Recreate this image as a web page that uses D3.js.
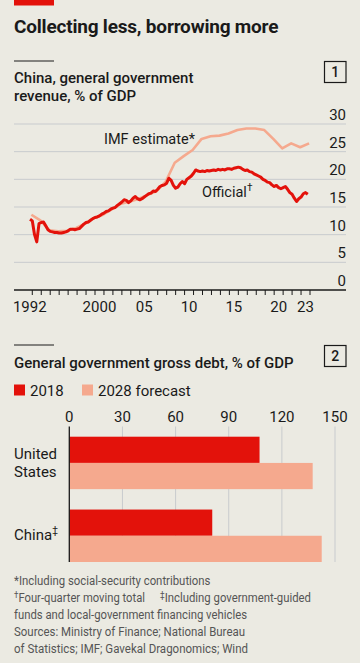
<!DOCTYPE html>
<html><head><meta charset="utf-8">
<script src="https://cdn.jsdelivr.net/npm/d3@7"></script>
<style>
html,body{margin:0;padding:0;background:#EBEAE2;}
svg{display:block;font-family:Roboto,"Noto Sans",sans-serif;}
</style></head>
<body><svg id="c" width="360" height="663"></svg>
<script>
// ---------- DATA ----------
// Chart 1: official revenue, quarterly (four-quarter moving total), % of GDP, starting 1992 Q4
const officialStart = 1992.75;
const officialValues = [
12.8,12.5,10.0,8.7,12.0,12.2,12.3,11.6,10.9,10.6,10.5,10.4,10.4,10.3,10.3,10.4,10.5,10.7,11.0,11.0,
10.9,11.0,11.1,11.5,11.9,12.2,12.3,12.6,12.9,13.1,13.2,13.4,13.7,13.9,14.2,14.3,14.6,14.8,14.9,15.3,
15.6,15.9,16.3,16.2,15.8,16.1,16.6,16.9,16.5,16.3,16.5,16.8,17.1,17.4,17.5,17.9,17.8,18.2,18.7,18.9,
19.0,19.3,20.2,19.8,18.9,18.4,18.6,19.2,19.6,19.2,20.0,20.3,20.6,21.1,21.7,21.5,21.4,21.5,21.4,21.6,
21.5,21.6,21.7,21.6,21.8,21.7,21.8,21.7,21.9,21.9,21.8,22.0,22.1,22.2,22.1,21.8,21.6,21.7,21.4,21.3,
21.0,20.8,20.6,20.4,20.0,19.8,19.5,19.4,19.0,18.7,18.9,18.5,18.3,18.5,18.7,18.2,17.6,17.3,16.6,16.0,
16.5,16.8,17.4,17.6,17.3];
// IMF estimate, annual
const imfYears = d3.range(1992, 2024);
const imfValues = [13.6,12.6,10.8,10.6,10.7,11.2,12.0,13.0,13.6,14.6,15.6,16.0,16.5,17.2,17.9,19.6,
23.0,24.2,25.3,27.3,27.8,27.9,28.3,28.9,29.2,29.2,28.9,27.3,25.6,26.5,25.8,26.5];
const revTicks = [0,5,10,15,20,25,30];
const yearLabels = [[1992,"1992"],[2000,"2000"],[2005,"05"],[2010,"10"],[2015,"15"],[2020,"20"],[2023,"23"]];

// Chart 2: gross debt, % of GDP
const countries = ["United States","China‡"];
const debt2018 = [107.4, 80.7];
const debt2028 = [137.4, 142.5];
const debtTicks = [0,30,60,90,120,150];
const seriesNames = ["2018","2028 forecast"];

// ---------- STYLE ----------
const RED = "#E3120B", PINK = "#F5A98E", INK = "#1A1A1A", GRID = "#C8CBCE";

const svg = d3.select("#c");

// header
svg.append("rect").attr("x",14).attr("y",0).attr("width",40).attr("height",5.5).attr("fill",RED);
svg.append("text").attr("x",14).attr("y",33).attr("font-size",19).attr("font-weight",700)
  .attr("fill",INK).attr("letter-spacing",-0.2).text("Collecting less, borrowing more");

// ---------- CHART 1 ----------
svg.append("line").attr("x1",14).attr("x2",54).attr("y1",61).attr("y2",61).attr("stroke",INK).attr("stroke-width",1);
svg.append("text").attr("x",14).attr("y",83.3).attr("font-size",15).attr("font-weight",500).attr("fill",INK).text("China, general government");
svg.append("text").attr("x",14).attr("y",100.8).attr("font-size",15).attr("font-weight",500).attr("fill",INK).text("revenue, % of GDP");
function numBox(x,y,label){
  svg.append("rect").attr("x",x).attr("y",y).attr("width",21.5).attr("height",21).attr("fill","none").attr("stroke",INK).attr("stroke-width",1.2);
  svg.append("text").attr("x",x+10.75).attr("y",y+15.5).attr("text-anchor","middle").attr("font-size",14).attr("font-weight",500).attr("fill",INK).text(label);
}
numBox(324.5,61.5,"1");

const x1 = d3.scaleLinear().domain([2000,2024]).range([95,310]);
const y1 = d3.scaleLinear().domain([0,30]).range([290,124]);

const g1 = svg.append("g");
g1.selectAll("line.grid").data(revTicks.filter(d=>d>0)).join("line")
  .attr("x1",14).attr("x2",346).attr("y1",d=>y1(d)).attr("y2",d=>y1(d))
  .attr("stroke",GRID).attr("stroke-width",1);
g1.selectAll("text.ylab").data(revTicks).join("text")
  .attr("x",346).attr("y",d=>y1(d)-4).attr("text-anchor","end").attr("font-size",15).attr("fill",INK).text(d=>d);

// x axis
g1.append("line").attr("x1",14).attr("x2",346).attr("y1",290).attr("y2",290).attr("stroke",INK).attr("stroke-width",1.3);
g1.selectAll("line.xt").data(d3.range(1993,2025)).join("line")
  .attr("x1",d=>x1(d)).attr("x2",d=>x1(d)).attr("y1",290).attr("y2",295)
  .attr("stroke",INK).attr("stroke-width",1);
g1.selectAll("text.xl").data(yearLabels).join("text")
  .attr("x",d=>d[0]===1992 ? x1(d[0]+0.5)+2 : x1(d[0]+0.5)).attr("y",312).attr("text-anchor","middle")
  .attr("font-size",15).attr("fill",INK).text(d=>d[1]);

const imfData = imfYears.map((yr,i)=>({t:yr+0.9, v:imfValues[i]}));
const offData = officialValues.map((v,i)=>({t:officialStart+i*0.25, v}));
const line = d3.line().x(d=>x1(d.t)).y(d=>y1(d.v)).curve(d3.curveLinear);
g1.append("path").datum(imfData).attr("d",line).attr("fill","none").attr("stroke",PINK).attr("stroke-width",2.6).attr("stroke-linejoin","round");
g1.append("path").datum(offData).attr("d",line).attr("fill","none").attr("stroke",RED).attr("stroke-width",3).attr("stroke-linejoin","round");

g1.append("text").attr("x",104).attr("y",144).attr("font-size",14.5).attr("fill",INK).text("IMF estimate*");
const off = g1.append("text").attr("x",202).attr("y",197).attr("font-size",14.5).attr("fill",INK).text("Official");
off.append("tspan").attr("dy",-6).attr("font-size",10).text("†");

// ---------- CHART 2 ----------
svg.append("line").attr("x1",14).attr("x2",54).attr("y1",345).attr("y2",345).attr("stroke",INK).attr("stroke-width",1);
svg.append("text").attr("x",14).attr("y",368).attr("font-size",15).attr("font-weight",500).attr("fill",INK)
  .text("General government gross debt, % of GDP");
numBox(324.5,345.5,"2");

// legend
const leg = svg.append("g");
[[14,RED,seriesNames[0]],[82,PINK,seriesNames[1]]].forEach(([lx,c,t])=>{
  leg.append("rect").attr("x",lx).attr("y",384.5).attr("width",11).attr("height",11).attr("fill",c);
  leg.append("text").attr("x",lx+16).attr("y",395.5).attr("font-size",15).attr("fill",INK).text(t);
});

const x2 = d3.scaleLinear().domain([0,150]).range([69.3,335]);
const y2 = d3.scaleBand().domain(countries).range([436.7,562]).paddingInner(0.28).paddingOuter(0);
const g2 = svg.append("g");
g2.selectAll("line.grid").data(debtTicks.filter(d=>d>0)).join("line")
  .attr("x1",d=>x2(d)).attr("x2",d=>x2(d)).attr("y1",426.5).attr("y2",562)
  .attr("stroke",GRID).attr("stroke-width",1);
g2.selectAll("text.xl").data(debtTicks).join("text")
  .attr("x",d=>x2(d)).attr("y",421.5).attr("text-anchor","middle").attr("font-size",15).attr("fill",INK).text(d=>d);

const bh = y2.bandwidth()/2;
countries.forEach((c,i)=>{
  g2.append("rect").attr("x",x2(0)).attr("y",y2(c)).attr("width",x2(debt2018[i])-x2(0)).attr("height",bh).attr("fill",RED);
  g2.append("rect").attr("x",x2(0)).attr("y",y2(c)+bh).attr("width",x2(debt2028[i])-x2(0)).attr("height",bh).attr("fill",PINK);
});
g2.append("line").attr("x1",x2(0)).attr("x2",x2(0)).attr("y1",426.5).attr("y2",562).attr("stroke",INK).attr("stroke-width",1.3);

// country labels
g2.append("text").attr("x",14).attr("y",458.5).attr("font-size",15).attr("fill",INK).text("United");
g2.append("text").attr("x",14).attr("y",476.5).attr("font-size",15).attr("fill",INK).text("States");
const cn = g2.append("text").attr("x",14).attr("y",540).attr("font-size",15).attr("fill",INK).text("China");
cn.append("tspan").attr("dy",-6).attr("font-size",10).text("‡");

// footnotes: [x, row, superscript, text, width]
const notes = [
  [14,0,"","*Including social-security contributions",196.5],
  [14,1,"†","Four-quarter moving total",131],
  [160,1,"‡","Including government-guided",151],
  [14,2,"","funds and local-government financing vehicles",233],
  [14,3,"","Sources: Ministry of Finance; National Bureau",231],
  [14,4,"","of Statistics; IMF; Gavekal Dragonomics; Wind",234]
];
notes.forEach(([nx,row,sup,txt,w])=>{
  const t = svg.append("text").attr("x",nx).attr("y",585+row*17).attr("font-size",12.5).attr("fill","#555")
    .attr("textLength",w).attr("lengthAdjust","spacingAndGlyphs");
  if(sup){ t.append("tspan").attr("font-size",9).attr("dy",-4).text(sup); t.append("tspan").attr("dy",4).text(txt); }
  else t.text(txt);
});
</script></body></html>
